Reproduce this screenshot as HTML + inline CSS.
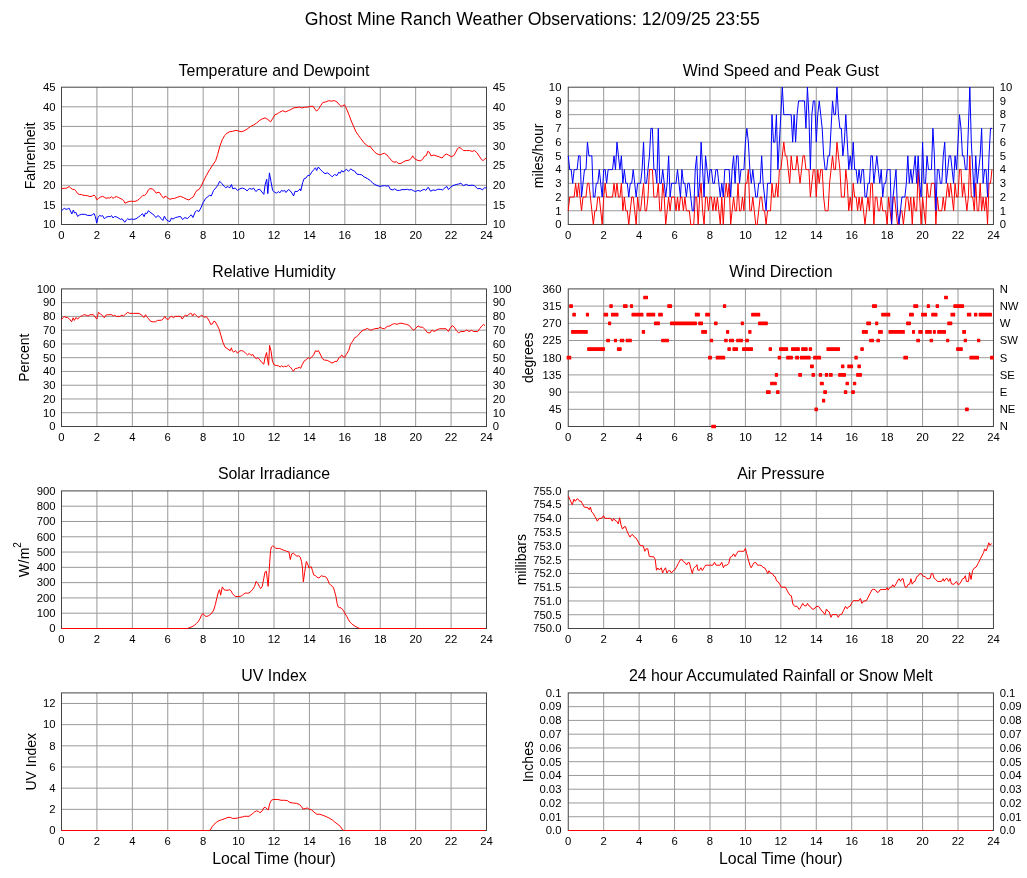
<!DOCTYPE html>
<html lang="en"><head><meta charset="utf-8"><title>Ghost Mine Ranch Weather Observations</title>
<style>html,body{margin:0;padding:0;background:#fff}svg{display:block;will-change:transform}text{font-family:"Liberation Sans", Arial, Helvetica, sans-serif;fill:#000}.t{font-size:11.3px}</style></head><body>
<svg width="1027" height="878" viewBox="0 0 1027 878">
<rect width="1027" height="878" fill="#fff"/>
<text x="532.3" y="25" font-size="17.7" text-anchor="middle">Ghost Mine Ranch Weather Observations: 12/09/25 23:55</text>
<path d="M96.92 87.2V224.5M132.33 87.2V224.5M167.75 87.2V224.5M203.17 87.2V224.5M238.58 87.2V224.5M274 87.2V224.5M309.42 87.2V224.5M344.83 87.2V224.5M380.25 87.2V224.5M415.67 87.2V224.5M451.08 87.2V224.5M61.5 204.89H486.5M61.5 185.27H486.5M61.5 165.66H486.5M61.5 146.04H486.5M61.5 126.43H486.5M61.5 106.81H486.5" stroke="#999" stroke-width="1" fill="none"/>
<rect x="61.5" y="87.2" width="425" height="137.3" fill="none" stroke="#444" stroke-width="1"/>
<path d="M61.5 210.8 63.21 209.19 64.28 208.34 65.89 209.19 67.5 209.19 68.78 207.91 70.18 210.26 71.78 214.01 73.39 210.05 74.46 212.94 75.85 212.41 77.67 216.48 79.28 215.08 81.42 214.33 84.63 214.33 87.85 215.41 91.06 215.41 92.67 214.55 94.06 213.48 95.35 216.69 96.74 223.12 98.02 217.23 99.63 215.41 101.24 216.16 102.63 215.62 104.45 218.83 106.06 217.23 108.2 216.48 110.34 216.69 111.63 215.62 113.02 217.98 114.63 216.48 116.77 217.01 118.91 218.3 120.52 219.37 122.12 218.83 124.8 222.26 126.41 219.9 127.8 218.62 129.08 219.69 131.23 219.05 133.9 219.37 136.05 218.83 138.19 217.23 140.33 215.62 142.47 213.69 144.08 216.69 145.47 212.94 146.76 213.69 148.47 210.59 149.97 212.19 152.11 213.69 154.26 215.41 155.86 217.55 158 215.62 159.61 216.69 161.22 218.83 162.82 220.44 164.43 216.16 166.04 219.37 168.18 220.98 170 221.51 171.38 218 172.97 219.12 175.36 217.52 177.75 217.04 180.46 216.41 182.54 219.59 184.93 217.52 187.32 218.64 189.71 216.41 191.3 214.81 192.9 217.52 195.29 211.94 196.88 210.35 198.8 211.62 200.87 207.96 203.26 202.38 205.65 198.39 207.72 196.8 209.64 195.2 211.23 196 213.62 190.42 215.7 188.03 217.61 185.64 219.68 181.33 221.59 183.25 223.99 186.12 225.58 187.71 227.97 186.43 229.57 188.03 231.48 184.52 232.75 188.83 235.14 188.03 237.54 190.42 239.93 188.83 242.32 188.03 244.71 188.83 247.1 190.9 249.49 188.35 251.88 189.3 253.48 188.03 255.87 191.54 257.94 189.62 259.86 189.3 261.93 192.01 263.84 194.41 265.12 184.84 266.71 179.26 267.83 193.61 269.42 172.88 271.01 181.65 272.61 190.42 275 192.49 276.7 193.13 278.29 191.54 279.88 192.81 281.48 190.42 283.07 191.22 284.67 190.42 285.94 192.49 288.33 189.62 289.93 190.42 292 193.13 293.59 196 295.03 191.22 297.1 191.54 298.7 190.42 299.97 188.83 300.77 190.9 302.68 182.45 304.28 178.46 305.87 178.14 307.94 175.28 309.54 175.59 311.77 172.09 313.84 169.7 315.43 167.78 316.71 170.49 318.3 166.99 320.22 169.22 322.61 171.77 325 173.68 327.39 172.88 329.78 174.48 332.17 176.87 334.57 174.48 336.96 175.59 338.87 172.09 340.14 173.36 341.74 170.49 343.01 172.09 344.93 170.49 346.52 169.22 348.43 171.29 350.83 168.9 352.9 170.49 354.49 170.97 356.88 174.16 359.28 174.48 361.67 174.8 364.06 176.87 367.25 178.46 370.12 180.38 372.83 183.25 376.01 185.16 380 186.43 381.19 186.12 384.38 185.64 386.77 186.12 388.36 185.64 390.43 189.3 393.14 189.94 394.74 188.83 397.13 190.42 399.52 190.42 401.91 189.62 405.1 189.62 407.49 189.3 409.09 189.94 411.48 189.62 413.87 190.9 415.46 191.54 417.86 190.42 420.25 191.22 422.64 189.94 424.23 189.3 425.83 190.42 428.22 187.23 430.61 191.22 433 189.94 435.39 190.42 437.78 189.3 440.17 189.3 442.57 189.94 444.96 187.71 446.87 186.43 448.46 189.62 450.54 187.23 452.93 185.64 456.12 184.52 458.51 184.04 460.9 183.25 463.29 185.64 466.48 184.36 468.87 185.64 472.06 185.16 474.45 185.64 477.64 188.83 480.03 188.35 482.42 189.94 484.49 187.71 486.41 188.03" stroke="#0000ff" stroke-width="1.0" fill="none" stroke-linejoin="round"/>
<path d="M61.5 188.52 64.28 188.31 66.96 188.09 69.1 186.49 70.71 187.99 72.32 189.27 74.46 189.49 76.07 191.2 77.67 193.66 79.28 194.41 81.42 194.52 83.03 195.27 85.71 195.48 87.85 195.81 89.78 196.66 92.13 196.13 94.06 195.06 95.35 196.34 96.74 199.77 98.56 198.48 100.17 197.2 102.63 196.34 104.13 197.2 106.06 198.27 108.2 197.84 109.81 198.16 111.41 196.77 113.02 198.27 114.63 197.41 116.23 196.56 118.37 197.41 119.98 198.27 122.12 199.34 123.73 200.63 125.01 203.3 126.94 202.23 129.08 201.48 131.23 201.16 132.83 201.37 134.98 201.37 137.12 200.63 139.26 199.02 141.4 196.88 143.01 195.27 144.62 195.48 146.76 193.13 148.36 189.91 149.97 188.63 152.11 188.84 153.72 189.91 155.33 192.06 156.18 193.13 158 192.27 159.61 192.59 161.22 195.27 162.82 197.41 163.68 198.27 164.97 196.13 166.57 196.88 168.18 198.27 170 199.34 172.17 198.55 174.57 198.39 177.75 197.12 180.46 196.32 183.33 197.59 186.52 199.19 188.91 199.99 191.3 198.07 193.38 196.8 195.29 192.81 196.88 190.42 198.8 189.62 200.87 186.75 203.26 181.65 206.45 175.28 209.64 169.7 212.83 164.91 215.7 160.61 217.61 154.55 220 145.78 222.39 139.41 224.78 135.42 227.17 133.03 229.57 131.75 232.75 131.28 235.94 130.32 238.33 130.96 241.2 131.75 243.91 130.96 247.1 129.04 250.29 126.65 253.48 125.06 256.67 122.99 259.86 120.28 262.25 118.84 265.12 117.88 267.83 119.48 270.54 121.87 272.61 118.68 275 114.7 277.17 113.9 279.57 112.3 282.75 110.71 285.46 111.83 288.33 110.71 290.72 109.59 293.91 107.84 297.1 107.52 299.49 107.04 301.88 108 304.28 107.2 307.46 107.2 309.86 106.41 313.04 106.25 314.96 109.12 316.55 111.19 319.1 108.32 321.01 105.13 322.93 102.42 325.8 101.94 328.67 100.67 331.38 101.14 334.57 100.67 336.96 101.94 339.35 104.81 340.94 106.25 342.54 105.93 344.45 104.81 346.2 108 348.91 114.7 351.3 121.07 353.7 126.65 355.77 131.43 358.48 135.42 360.87 138.61 363.74 142.59 366.45 144.99 368.52 146.58 370.12 146.26 372.03 148.97 374.42 151.68 376.81 153.75 380 154.87 380.39 154.87 382.46 153.75 384.38 153.28 386.77 154.87 389.16 157.74 391.55 160.61 393.94 162.2 396.33 161.72 398.72 163.64 401.12 163.32 403.51 161.72 405.9 160.61 409.09 160.13 411.16 158.54 412.75 155.83 414.35 158.54 417.06 160.13 420.25 160.93 422.64 159.33 424.55 156.14 426.3 155.67 427.74 151.36 429.33 152.16 430.93 155.83 433.8 155.03 436.19 155.83 439.38 156.94 442.09 158.06 444.16 155.35 446.55 154.07 448.94 155.35 451.33 156.62 453.72 155.67 455.8 152.16 457.39 148.97 458.83 147.38 460.9 148.17 463.29 150.57 466.48 150.57 469.67 150.57 472.06 151.36 474.45 150.57 476.84 152.64 479.23 156.14 481.62 159.65 483.22 160.61 485.13 158.54 486.41 158.54" stroke="#ff0000" stroke-width="1.0" fill="none" stroke-linejoin="round"/>
<text x="274" y="75.6" font-size="15.9" text-anchor="middle">Temperature and Dewpoint</text>
<text class="t" x="61.5" y="238.9" text-anchor="middle">0</text>
<text class="t" x="96.92" y="238.9" text-anchor="middle">2</text>
<text class="t" x="132.33" y="238.9" text-anchor="middle">4</text>
<text class="t" x="167.75" y="238.9" text-anchor="middle">6</text>
<text class="t" x="203.17" y="238.9" text-anchor="middle">8</text>
<text class="t" x="238.58" y="238.9" text-anchor="middle">10</text>
<text class="t" x="274" y="238.9" text-anchor="middle">12</text>
<text class="t" x="309.42" y="238.9" text-anchor="middle">14</text>
<text class="t" x="344.83" y="238.9" text-anchor="middle">16</text>
<text class="t" x="380.25" y="238.9" text-anchor="middle">18</text>
<text class="t" x="415.67" y="238.9" text-anchor="middle">20</text>
<text class="t" x="451.08" y="238.9" text-anchor="middle">22</text>
<text class="t" x="486.5" y="238.9" text-anchor="middle">24</text>
<text class="t" x="55.5" y="228.3" text-anchor="end">10</text>
<text class="t" x="55.5" y="208.69" text-anchor="end">15</text>
<text class="t" x="55.5" y="189.07" text-anchor="end">20</text>
<text class="t" x="55.5" y="169.46" text-anchor="end">25</text>
<text class="t" x="55.5" y="149.84" text-anchor="end">30</text>
<text class="t" x="55.5" y="130.23" text-anchor="end">35</text>
<text class="t" x="55.5" y="110.61" text-anchor="end">40</text>
<text class="t" x="55.5" y="91" text-anchor="end">45</text>
<text class="t" x="492.7" y="228.3">10</text>
<text class="t" x="492.7" y="208.69">15</text>
<text class="t" x="492.7" y="189.07">20</text>
<text class="t" x="492.7" y="169.46">25</text>
<text class="t" x="492.7" y="149.84">30</text>
<text class="t" x="492.7" y="130.23">35</text>
<text class="t" x="492.7" y="110.61">40</text>
<text class="t" x="492.7" y="91">45</text>
<text transform="translate(34.9 155.85) rotate(-90)" font-size="14" text-anchor="middle">Fahrenheit</text>
<path d="M603.68 87.2V224.5M639.12 87.2V224.5M674.55 87.2V224.5M709.98 87.2V224.5M745.42 87.2V224.5M780.85 87.2V224.5M816.28 87.2V224.5M851.72 87.2V224.5M887.15 87.2V224.5M922.58 87.2V224.5M958.02 87.2V224.5M568.25 210.77H993.45M568.25 197.04H993.45M568.25 183.31H993.45M568.25 169.58H993.45M568.25 155.85H993.45M568.25 142.12H993.45M568.25 128.39H993.45M568.25 114.66H993.45M568.25 100.93H993.45" stroke="#999" stroke-width="1" fill="none"/>
<rect x="568.25" y="87.2" width="425.2" height="137.3" fill="none" stroke="#444" stroke-width="1"/>
<path d="M568.25 210.77 569.73 197.04 571.2 197.04 572.68 197.04 574.16 197.04 575.63 183.31 577.11 197.04 578.58 183.31 580.06 197.04 581.54 210.77 583.01 197.04 584.49 197.04 585.97 197.04 587.44 183.31 588.92 183.31 590.4 197.04 591.87 210.77 593.35 224.5 594.83 210.77 596.3 210.77 597.78 197.04 599.25 197.04 600.73 210.77 602.21 224.5 603.68 197.04 605.16 183.31 606.64 197.04 608.11 197.04 609.59 197.04 611.07 197.04 612.54 197.04 614.02 183.31 615.49 197.04 616.97 183.31 618.45 197.04 619.92 197.04 621.4 183.31 622.88 210.77 624.35 197.04 625.83 210.77 627.31 210.77 628.78 224.5 630.26 210.77 631.73 197.04 633.21 197.04 634.69 210.77 636.16 224.5 637.64 197.04 639.12 210.77 640.59 210.77 642.07 197.04 643.55 183.31 645.02 210.77 646.5 210.77 647.98 197.04 649.45 169.58 650.93 169.58 652.4 169.58 653.88 197.04 655.36 197.04 656.83 197.04 658.31 183.31 659.79 210.77 661.26 210.77 662.74 183.31 664.22 197.04 665.69 224.5 667.17 210.77 668.64 197.04 670.12 210.77 671.6 197.04 673.07 197.04 674.55 197.04 676.03 210.77 677.5 197.04 678.98 210.77 680.46 197.04 681.93 197.04 683.41 210.77 684.88 197.04 686.36 210.77 687.84 210.77 689.31 210.77 690.79 224.5 692.27 224.5 693.74 224.5 695.22 197.04 696.7 197.04 698.17 224.5 699.65 197.04 701.12 183.31 702.6 210.77 704.08 224.5 705.55 197.04 707.03 197.04 708.51 210.77 709.98 197.04 711.46 197.04 712.94 210.77 714.41 197.04 715.89 210.77 717.37 197.04 718.84 210.77 720.32 224.5 721.79 197.04 723.27 224.5 724.75 197.04 726.22 183.31 727.7 197.04 729.18 183.31 730.65 224.5 732.13 210.77 733.61 197.04 735.08 210.77 736.56 210.77 738.03 183.31 739.51 210.77 740.99 210.77 742.46 197.04 743.94 210.77 745.42 183.31 746.89 183.31 748.37 169.58 749.85 210.77 751.32 210.77 752.8 197.04 754.27 210.77 755.75 224.5 757.23 224.5 758.7 210.77 760.18 197.04 761.66 197.04 763.13 210.77 764.61 210.77 766.09 224.5 767.56 210.77 769.04 210.77 770.52 210.77 771.99 183.31 773.47 197.04 774.94 197.04 776.42 183.31 777.9 197.04 779.37 169.58 780.85 169.58 782.33 155.85 783.8 142.12 785.28 155.85 786.76 155.85 788.23 169.58 789.71 183.31 791.18 155.85 792.66 169.58 794.14 169.58 795.61 169.58 797.09 155.85 798.57 169.58 800.04 183.31 801.52 169.58 803 155.85 804.47 155.85 805.95 169.58 807.42 169.58 808.9 169.58 810.38 197.04 811.85 183.31 813.33 169.58 814.81 169.58 816.28 197.04 817.76 169.58 819.24 183.31 820.71 169.58 822.19 169.58 823.67 197.04 825.14 210.77 826.62 210.77 828.09 210.77 829.57 183.31 831.05 169.58 832.52 155.85 834 169.58 835.48 169.58 836.95 142.12 838.43 155.85 839.91 169.58 841.38 197.04 842.86 197.04 844.33 197.04 845.81 169.58 847.29 183.31 848.76 210.77 850.24 197.04 851.72 210.77 853.19 183.31 854.67 197.04 856.15 197.04 857.62 210.77 859.1 197.04 860.58 210.77 862.05 197.04 863.53 210.77 865 224.5 866.48 210.77 867.96 197.04 869.43 210.77 870.91 183.31 872.39 183.31 873.86 224.5 875.34 197.04 876.82 197.04 878.29 210.77 879.77 210.77 881.24 197.04 882.72 210.77 884.2 210.77 885.67 210.77 887.15 224.5 888.63 197.04 890.1 210.77 891.58 224.5 893.06 197.04 894.53 197.04 896.01 210.77 897.48 224.5 898.96 224.5 900.44 210.77 901.91 210.77 903.39 224.5 904.87 210.77 906.34 197.04 907.82 197.04 909.3 210.77 910.77 197.04 912.25 224.5 913.73 197.04 915.2 210.77 916.68 210.77 918.15 169.58 919.63 197.04 921.11 224.5 922.58 197.04 924.06 210.77 925.54 224.5 927.01 183.31 928.49 197.04 929.97 197.04 931.44 183.31 932.92 183.31 934.39 183.31 935.87 224.5 937.35 197.04 938.82 210.77 940.3 210.77 941.78 210.77 943.25 197.04 944.73 210.77 946.21 197.04 947.68 183.31 949.16 197.04 950.63 183.31 952.11 197.04 953.59 210.77 955.06 183.31 956.54 197.04 958.02 197.04 959.49 169.58 960.97 169.58 962.45 197.04 963.92 183.31 965.4 197.04 966.88 210.77 968.35 197.04 969.83 155.85 971.3 197.04 972.78 197.04 974.26 210.77 975.73 183.31 977.21 210.77 978.69 210.77 980.16 183.31 981.64 210.77 983.12 197.04 984.59 210.77 986.07 197.04 987.54 224.5 989.02 183.31 990.5 183.31 991.97 169.58" stroke="#ff0000" stroke-width="1.0" fill="none" stroke-linejoin="round"/>
<path d="M568.25 155.85 569.73 169.58 571.2 169.58 572.68 183.31 574.16 169.58 575.63 169.58 577.11 169.58 578.58 155.85 580.06 155.85 581.54 197.04 583.01 183.31 584.49 169.58 585.97 169.58 587.44 142.12 588.92 155.85 590.4 155.85 591.87 155.85 593.35 197.04 594.83 197.04 596.3 183.31 597.78 183.31 599.25 169.58 600.73 183.31 602.21 197.04 603.68 169.58 605.16 169.58 606.64 183.31 608.11 169.58 609.59 169.58 611.07 169.58 612.54 169.58 614.02 155.85 615.49 169.58 616.97 142.12 618.45 155.85 619.92 169.58 621.4 155.85 622.88 183.31 624.35 169.58 625.83 183.31 627.31 183.31 628.78 197.04 630.26 183.31 631.73 183.31 633.21 169.58 634.69 183.31 636.16 197.04 637.64 183.31 639.12 183.31 640.59 183.31 642.07 169.58 643.55 142.12 645.02 183.31 646.5 183.31 647.98 169.58 649.45 155.85 650.93 128.39 652.4 128.39 653.88 169.58 655.36 169.58 656.83 183.31 658.31 128.39 659.79 183.31 661.26 183.31 662.74 169.58 664.22 183.31 665.69 197.04 667.17 183.31 668.64 155.85 670.12 197.04 671.6 183.31 673.07 183.31 674.55 183.31 676.03 183.31 677.5 169.58 678.98 183.31 680.46 197.04 681.93 169.58 683.41 183.31 684.88 183.31 686.36 197.04 687.84 183.31 689.31 183.31 690.79 197.04 692.27 210.77 693.74 210.77 695.22 169.58 696.7 155.85 698.17 197.04 699.65 183.31 701.12 142.12 702.6 169.58 704.08 197.04 705.55 155.85 707.03 169.58 708.51 183.31 709.98 169.58 711.46 169.58 712.94 183.31 714.41 183.31 715.89 169.58 717.37 169.58 718.84 183.31 720.32 197.04 721.79 183.31 723.27 197.04 724.75 169.58 726.22 169.58 727.7 169.58 729.18 169.58 730.65 197.04 732.13 169.58 733.61 155.85 735.08 183.31 736.56 155.85 738.03 155.85 739.51 183.31 740.99 169.58 742.46 169.58 743.94 169.58 745.42 142.12 746.89 128.39 748.37 142.12 749.85 169.58 751.32 183.31 752.8 169.58 754.27 183.31 755.75 197.04 757.23 197.04 758.7 183.31 760.18 183.31 761.66 155.85 763.13 183.31 764.61 197.04 766.09 210.77 767.56 183.31 769.04 183.31 770.52 183.31 771.99 114.66 773.47 142.12 774.94 142.12 776.42 114.66 777.9 169.58 779.37 142.12 780.85 114.66 782.33 87.2 783.8 114.66 785.28 114.66 786.76 114.66 788.23 114.66 789.71 114.66 791.18 114.66 792.66 142.12 794.14 114.66 795.61 142.12 797.09 114.66 798.57 100.93 800.04 100.93 801.52 100.93 803 100.93 804.47 100.93 805.95 128.39 807.42 87.2 808.9 114.66 810.38 169.58 811.85 114.66 813.33 100.93 814.81 100.93 816.28 142.12 817.76 114.66 819.24 100.93 820.71 114.66 822.19 128.39 823.67 155.85 825.14 169.58 826.62 169.58 828.09 155.85 829.57 155.85 831.05 128.39 832.52 100.93 834 114.66 835.48 114.66 836.95 87.2 838.43 114.66 839.91 128.39 841.38 128.39 842.86 155.85 844.33 142.12 845.81 114.66 847.29 142.12 848.76 169.58 850.24 155.85 851.72 169.58 853.19 142.12 854.67 169.58 856.15 169.58 857.62 183.31 859.1 169.58 860.58 183.31 862.05 169.58 863.53 169.58 865 197.04 866.48 197.04 867.96 183.31 869.43 183.31 870.91 155.85 872.39 155.85 873.86 183.31 875.34 169.58 876.82 155.85 878.29 169.58 879.77 183.31 881.24 169.58 882.72 197.04 884.2 183.31 885.67 183.31 887.15 169.58 888.63 169.58 890.1 169.58 891.58 224.5 893.06 197.04 894.53 183.31 896.01 169.58 897.48 210.77 898.96 224.5 900.44 210.77 901.91 197.04 903.39 197.04 904.87 197.04 906.34 183.31 907.82 155.85 909.3 183.31 910.77 169.58 912.25 183.31 913.73 169.58 915.2 155.85 916.68 183.31 918.15 155.85 919.63 183.31 921.11 197.04 922.58 142.12 924.06 183.31 925.54 183.31 927.01 155.85 928.49 169.58 929.97 169.58 931.44 169.58 932.92 128.39 934.39 155.85 935.87 210.77 937.35 169.58 938.82 169.58 940.3 183.31 941.78 183.31 943.25 155.85 944.73 142.12 946.21 183.31 947.68 169.58 949.16 155.85 950.63 155.85 952.11 169.58 953.59 183.31 955.06 155.85 956.54 169.58 958.02 142.12 959.49 114.66 960.97 128.39 962.45 155.85 963.92 155.85 965.4 169.58 966.88 169.58 968.35 128.39 969.83 87.2 971.3 142.12 972.78 169.58 974.26 197.04 975.73 155.85 977.21 183.31 978.69 169.58 980.16 155.85 981.64 128.39 983.12 183.31 984.59 169.58 986.07 169.58 987.54 197.04 989.02 155.85 990.5 128.39 991.97 128.39" stroke="#0000ff" stroke-width="1.0" fill="none" stroke-linejoin="round"/>
<text x="780.85" y="75.6" font-size="15.9" text-anchor="middle">Wind Speed and Peak Gust</text>
<text class="t" x="568.25" y="238.9" text-anchor="middle">0</text>
<text class="t" x="603.68" y="238.9" text-anchor="middle">2</text>
<text class="t" x="639.12" y="238.9" text-anchor="middle">4</text>
<text class="t" x="674.55" y="238.9" text-anchor="middle">6</text>
<text class="t" x="709.98" y="238.9" text-anchor="middle">8</text>
<text class="t" x="745.42" y="238.9" text-anchor="middle">10</text>
<text class="t" x="780.85" y="238.9" text-anchor="middle">12</text>
<text class="t" x="816.28" y="238.9" text-anchor="middle">14</text>
<text class="t" x="851.72" y="238.9" text-anchor="middle">16</text>
<text class="t" x="887.15" y="238.9" text-anchor="middle">18</text>
<text class="t" x="922.58" y="238.9" text-anchor="middle">20</text>
<text class="t" x="958.02" y="238.9" text-anchor="middle">22</text>
<text class="t" x="993.45" y="238.9" text-anchor="middle">24</text>
<text class="t" x="561.45" y="228.3" text-anchor="end">0</text>
<text class="t" x="561.45" y="214.57" text-anchor="end">1</text>
<text class="t" x="561.45" y="200.84" text-anchor="end">2</text>
<text class="t" x="561.45" y="187.11" text-anchor="end">3</text>
<text class="t" x="561.45" y="173.38" text-anchor="end">4</text>
<text class="t" x="561.45" y="159.65" text-anchor="end">5</text>
<text class="t" x="561.45" y="145.92" text-anchor="end">6</text>
<text class="t" x="561.45" y="132.19" text-anchor="end">7</text>
<text class="t" x="561.45" y="118.46" text-anchor="end">8</text>
<text class="t" x="561.45" y="104.73" text-anchor="end">9</text>
<text class="t" x="561.45" y="91" text-anchor="end">10</text>
<text class="t" x="999.65" y="228.3">0</text>
<text class="t" x="999.65" y="214.57">1</text>
<text class="t" x="999.65" y="200.84">2</text>
<text class="t" x="999.65" y="187.11">3</text>
<text class="t" x="999.65" y="173.38">4</text>
<text class="t" x="999.65" y="159.65">5</text>
<text class="t" x="999.65" y="145.92">6</text>
<text class="t" x="999.65" y="132.19">7</text>
<text class="t" x="999.65" y="118.46">8</text>
<text class="t" x="999.65" y="104.73">9</text>
<text class="t" x="999.65" y="91">10</text>
<text transform="translate(542.9 155.85) rotate(-90)" font-size="14" text-anchor="middle">miles/hour</text>
<path d="M96.92 288.9V426.5M132.33 288.9V426.5M167.75 288.9V426.5M203.17 288.9V426.5M238.58 288.9V426.5M274 288.9V426.5M309.42 288.9V426.5M344.83 288.9V426.5M380.25 288.9V426.5M415.67 288.9V426.5M451.08 288.9V426.5M61.5 412.74H486.5M61.5 398.98H486.5M61.5 385.22H486.5M61.5 371.46H486.5M61.5 357.7H486.5M61.5 343.94H486.5M61.5 330.18H486.5M61.5 316.42H486.5M61.5 302.66H486.5" stroke="#999" stroke-width="1" fill="none"/>
<rect x="61.5" y="288.9" width="425" height="137.6" fill="none" stroke="#444" stroke-width="1"/>
<path d="M61.64 319.36 63 317.72 64.09 316.36 65.73 317.45 67.5 317.45 69.54 319.08 71.59 321.81 73.22 317.72 74.31 320.45 76.09 317.45 77.45 319.08 79.08 317.72 80.45 316.36 82.49 315.68 83.86 314.72 85.9 315 87.95 316.09 89.99 314.72 93.4 314.72 95.17 317.04 96.81 319.08 98.44 312.27 100.21 313.9 102.26 315.27 104.3 317.72 105.67 315.27 107.71 314.72 111.8 314.72 113.44 316.09 114.53 315 116.16 316.36 119.98 316.36 122.03 315 123.39 316.09 125.43 314.31 127.75 312.27 129.52 313.36 133.61 313.36 139.07 313.36 141.11 314.72 142.47 315.68 143.84 317.45 145.61 314.72 146.56 316.63 148.33 318.4 149.97 320.72 152.02 321.81 155.42 321.81 157.47 320.45 161.56 320.18 163.33 318.81 164.69 316.36 166.33 318.81 168.37 319.36 170.42 316.63 171.78 316.36 173.42 317.72 175.19 316.36 178.6 316.36 180.64 316.36 182.28 319.08 184.05 316.36 185.41 315 187.05 316.09 188.82 314.31 190.59 313.22 191.55 313.63 192.5 316.09 194.27 313.63 196.32 315.68 198.36 317.45 200 316.63 200.18 316.45 201.54 315.08 203.18 316.45 204.81 317.4 206.18 316.45 207.95 318.9 209.31 321.22 210.68 324.35 212.45 323.95 213.81 321.22 215.18 321.63 216.81 324.63 219.26 329.4 220.9 335.53 222.95 342.35 224.99 347.12 227.04 348.48 229.08 349.85 230.17 350.8 231.4 347.8 232.49 351.21 233.85 352.16 235.49 350.53 237.53 353.25 239.3 351.21 241.35 350.53 243.39 351.21 245.44 352.98 247.48 354.89 249.26 353.53 250.89 355.3 252.94 354.62 254.57 357.34 256.34 358.71 257.98 357.62 259.75 359.8 261.8 362.52 263.84 364.16 264.93 358.03 266.57 352.57 267.66 360.07 268.61 365.25 269.57 345.35 271.07 351.21 272.43 361.16 274.07 364.84 276.11 365.52 278.43 365.8 280.2 366.89 281.56 365.8 283.33 366.89 284.7 366.2 286.33 366.61 288.38 365.25 290.42 367.16 292.06 369.34 293.42 371.25 295.19 368.52 297.24 368.25 299.28 367.3 300.65 368.25 302.42 364.16 304.06 361.16 306.1 359.8 308.15 357.62 309.51 358.71 311.55 357.34 313.6 354.89 315.64 350.53 317.01 351.62 318.37 350.53 320.14 353.94 322.46 358.71 324.5 360.07 327.23 360.34 329.27 361.43 332 363.07 334.05 362.11 335 361.43 337.01 361.43 339.04 357.54 340.59 356.76 341.68 354.89 343.24 357.07 344.8 357.23 346.36 354.42 348.7 350.53 350.56 344.3 352.59 341.49 354.62 337.75 356.48 336.82 358.82 334.64 360.85 331.83 363.03 330.27 365.05 329.5 367.39 328.41 369.73 329.96 372.06 329.96 374.4 328.72 378.3 328.41 380.17 327.16 382.19 328.41 384.53 328.72 387.33 326.38 389.98 325.91 392.32 324.35 394.65 323.58 396.99 324.35 399.8 323.26 401.98 323.26 404.47 324.04 406.65 324.35 409.45 325.6 411.32 327.94 413.35 330.27 415.69 328.41 418.02 325.91 420.05 327.16 422.7 327.16 425.03 329.5 427.37 332.61 430.02 332.92 432.04 329.96 434.07 331.52 436.72 329.96 439.52 328.72 442.95 328.72 446.07 328.72 448.4 331.52 450.27 327.94 452.3 325.6 454.32 327.16 456.19 330.27 458.53 332.92 460.87 331.52 464.29 331.52 466.79 329.96 468.97 331.52 471.46 330.27 473.64 331.52 477.69 331.52 479.87 328.41 481.9 325.91 483.46 324.51 485.01 325.6" stroke="#ff0000" stroke-width="1.0" fill="none" stroke-linejoin="round"/>
<text x="274" y="277.3" font-size="15.9" text-anchor="middle">Relative Humidity</text>
<text class="t" x="61.5" y="440.9" text-anchor="middle">0</text>
<text class="t" x="96.92" y="440.9" text-anchor="middle">2</text>
<text class="t" x="132.33" y="440.9" text-anchor="middle">4</text>
<text class="t" x="167.75" y="440.9" text-anchor="middle">6</text>
<text class="t" x="203.17" y="440.9" text-anchor="middle">8</text>
<text class="t" x="238.58" y="440.9" text-anchor="middle">10</text>
<text class="t" x="274" y="440.9" text-anchor="middle">12</text>
<text class="t" x="309.42" y="440.9" text-anchor="middle">14</text>
<text class="t" x="344.83" y="440.9" text-anchor="middle">16</text>
<text class="t" x="380.25" y="440.9" text-anchor="middle">18</text>
<text class="t" x="415.67" y="440.9" text-anchor="middle">20</text>
<text class="t" x="451.08" y="440.9" text-anchor="middle">22</text>
<text class="t" x="486.5" y="440.9" text-anchor="middle">24</text>
<text class="t" x="55.5" y="430.3" text-anchor="end">0</text>
<text class="t" x="55.5" y="416.54" text-anchor="end">10</text>
<text class="t" x="55.5" y="402.78" text-anchor="end">20</text>
<text class="t" x="55.5" y="389.02" text-anchor="end">30</text>
<text class="t" x="55.5" y="375.26" text-anchor="end">40</text>
<text class="t" x="55.5" y="361.5" text-anchor="end">50</text>
<text class="t" x="55.5" y="347.74" text-anchor="end">60</text>
<text class="t" x="55.5" y="333.98" text-anchor="end">70</text>
<text class="t" x="55.5" y="320.22" text-anchor="end">80</text>
<text class="t" x="55.5" y="306.46" text-anchor="end">90</text>
<text class="t" x="55.5" y="292.7" text-anchor="end">100</text>
<text class="t" x="492.7" y="430.3">0</text>
<text class="t" x="492.7" y="416.54">10</text>
<text class="t" x="492.7" y="402.78">20</text>
<text class="t" x="492.7" y="389.02">30</text>
<text class="t" x="492.7" y="375.26">40</text>
<text class="t" x="492.7" y="361.5">50</text>
<text class="t" x="492.7" y="347.74">60</text>
<text class="t" x="492.7" y="333.98">70</text>
<text class="t" x="492.7" y="320.22">80</text>
<text class="t" x="492.7" y="306.46">90</text>
<text class="t" x="492.7" y="292.7">100</text>
<text transform="translate(29.3 357.7) rotate(-90)" font-size="14" text-anchor="middle">Percent</text>
<path d="M603.68 288.9V426.5M639.12 288.9V426.5M674.55 288.9V426.5M709.98 288.9V426.5M745.42 288.9V426.5M780.85 288.9V426.5M816.28 288.9V426.5M851.72 288.9V426.5M887.15 288.9V426.5M922.58 288.9V426.5M958.02 288.9V426.5M568.25 409.3H993.45M568.25 392.1H993.45M568.25 374.9H993.45M568.25 357.7H993.45M568.25 340.5H993.45M568.25 323.3H993.45M568.25 306.1H993.45" stroke="#999" stroke-width="1" fill="none"/>
<rect x="568.25" y="288.9" width="425.2" height="137.6" fill="none" stroke="#444" stroke-width="1"/>
<path d="M643.82 296.25h3.61v2.5h-3.61zM569.76 304.85h2.6v2.5h-2.6zM609.89 304.85h2.34v2.5h-2.34zM623.56 304.85h3.48v2.5h-3.48zM630.52 304.85h1.96v2.5h-1.96zM667.87 304.85h3.61v2.5h-3.61zM572.93 313.45h2.34v2.5h-2.34zM586.47 313.45h1.96v2.5h-1.96zM604.19 313.45h3.36v2.5h-3.36zM611.54 313.45h6.39v2.5h-6.39zM632.04 313.45h10.83v2.5h-10.83zM646.98 313.45h7.66v2.5h-7.66zM658.75 313.45h3.48v2.5h-3.48zM695.43 313.45h0.2v2.5h-0.2zM608.63 322.05h1.96v2.5h-1.96zM654.57 322.05h4.75v2.5h-4.75zM670.65 322.05h24.75v2.5h-24.75zM571.66 330.65h15.51v2.5h-15.51zM642.3 330.65h2.22v2.5h-2.22zM606.85 339.25h2.47v2.5h-2.47zM614.45 339.25h1.96v2.5h-1.96zM620.4 339.25h3.23v2.5h-3.23zM626.35 339.25h4.88v2.5h-4.88zM661.79 339.25h6.52v2.5h-6.52zM587.74 347.85h16.65v2.5h-16.65zM617.49 347.85h3.61v2.5h-3.61zM567.23 356.45h3.48v2.5h-3.48zM723.5 304.85h2.09v2.5h-2.09zM695.65 313.45h3.61v2.5h-3.61zM705.78 313.45h3.61v2.5h-3.61zM751.73 313.45h7.91v2.5h-7.91zM691.6 322.05h4.75v2.5h-4.75zM698.82 322.05h3.61v2.5h-3.61zM714.64 322.05h2.34v2.5h-2.34zM741.35 322.05h1.96v2.5h-1.96zM758.69 322.05h8.55v2.5h-8.55zM701.73 330.65h4.75v2.5h-4.75zM726.66 330.65h1.96v2.5h-1.96zM748.82 330.65h2.09v2.5h-2.09zM710.33 339.25h2.22v2.5h-2.22zM724.76 339.25h2.34v2.5h-2.34zM729.57 339.25h3.86v2.5h-3.86zM736.79 339.25h5.51v2.5h-5.51zM745.78 339.25h2.47v2.5h-2.47zM727.93 347.85h2.34v2.5h-2.34zM732.99 347.85h4.5v2.5h-4.5zM742.61 347.85h9.81v2.5h-9.81zM769.19 347.85h2.22v2.5h-2.22zM779.57 347.85h8.04v2.5h-8.04zM791.6 347.85h7.66v2.5h-7.66zM801.73 347.85h5.38v2.5h-5.38zM809.32 347.85h2.22v2.5h-2.22zM708.69 356.45h2.6v2.5h-2.6zM716.28 356.45h8.29v2.5h-8.29zM778.31 356.45h2.22v2.5h-2.22zM786.79 356.45h5.51v2.5h-5.51zM795.78 356.45h2.6v2.5h-2.6zM800.46 356.45h9.56v2.5h-9.56zM813.75 356.45h6.65v2.5h-6.65zM810.59 365.05h2.6v2.5h-2.6zM775.4 373.65h2.09v2.5h-2.09zM798.82 373.65h2.6v2.5h-2.6zM812.11 373.65h2.34v2.5h-2.34zM819.7 373.65h0.7v2.5h-0.7zM770.71 382.25h5.51v2.5h-5.51zM820.43 382.25h0.2v2.5h-0.2zM766.54 390.85h3.61v2.5h-3.61zM776.66 390.85h2.34v2.5h-2.34zM815.02 408.05h2.34v2.5h-2.34zM711.85 425.25h3.61v2.5h-3.61zM944.7 296.25h0.7v2.5h-0.7zM872.55 304.85h3.86v2.5h-3.86zM913.82 304.85h3.86v2.5h-3.86zM927.36 304.85h1.96v2.5h-1.96zM936.22 304.85h2.22v2.5h-2.22zM881.79 313.45h7.91v2.5h-7.91zM909.64 313.45h3.61v2.5h-3.61zM921.66 313.45h4.75v2.5h-4.75zM931.79 313.45h5.13v2.5h-5.13zM866.85 322.05h3.61v2.5h-3.61zM875.71 322.05h1.96v2.5h-1.96zM906.73 322.05h3.61v2.5h-3.61zM862.42 330.65h4.88v2.5h-4.88zM878.63 330.65h3.61v2.5h-3.61zM889.01 330.65h15.26v2.5h-15.26zM912.55 330.65h1.84v2.5h-1.84zM918.88 330.65h3.23v2.5h-3.23zM925.71 330.65h5.51v2.5h-5.51zM933.44 330.65h1.84v2.5h-1.84zM937.74 330.65h7.66v2.5h-7.66zM869.76 339.25h3.61v2.5h-3.61zM876.98 339.25h2.34v2.5h-2.34zM916.85 339.25h2.6v2.5h-2.6zM930.14 339.25h2.34v2.5h-2.34zM826.98 347.85h12.47v2.5h-12.47zM860.9 347.85h2.34v2.5h-2.34zM816.6 356.45h3.86v2.5h-3.86zM854.95 356.45h2.22v2.5h-2.22zM903.94 356.45h3.48v2.5h-3.48zM841.54 365.05h2.34v2.5h-2.34zM847.87 365.05h4.62v2.5h-4.62zM857.99 365.05h2.34v2.5h-2.34zM819.38 373.65h2.09v2.5h-2.09zM825.46 373.65h2.22v2.5h-2.22zM829.64 373.65h2.47v2.5h-2.47zM838.75 373.65h6.65v2.5h-6.65zM856.73 373.65h4.62v2.5h-4.62zM821.03 382.25h2.22v2.5h-2.22zM846.09 382.25h2.22v2.5h-2.22zM853.56 382.25h2.09v2.5h-2.09zM823.82 390.85h2.6v2.5h-2.6zM844.45 390.85h2.22v2.5h-2.22zM851.79 390.85h2.47v2.5h-2.47zM822.55 399.45h2.09v2.5h-2.09zM816.6 408.05h0.7v2.5h-0.7zM944.82 296.25h2.47v2.5h-2.47zM953.93 304.85h9.56v2.5h-9.56zM951.02 313.45h3.61v2.5h-3.61zM967.47 313.45h3.23v2.5h-3.23zM974.56 313.45h2.22v2.5h-2.22zM979.25 313.45h12.09v2.5h-12.09zM947.85 322.05h3.86v2.5h-3.86zM962.79 330.65h2.6v2.5h-2.6zM946.71 339.25h1.96v2.5h-1.96zM964.31 339.25h2.09v2.5h-2.09zM977.6 339.25h2.09v2.5h-2.09zM956.71 347.85h5.51v2.5h-5.51zM970.01 356.45h8.42v2.5h-8.42zM990.64 356.45h2.6v2.5h-2.6zM965.57 408.05h2.6v2.5h-2.6z" fill="#ff0000" stroke="#ff0000" stroke-width="1.2" stroke-linejoin="round"/>
<text x="780.85" y="277.3" font-size="15.9" text-anchor="middle">Wind Direction</text>
<text class="t" x="568.25" y="440.9" text-anchor="middle">0</text>
<text class="t" x="603.68" y="440.9" text-anchor="middle">2</text>
<text class="t" x="639.12" y="440.9" text-anchor="middle">4</text>
<text class="t" x="674.55" y="440.9" text-anchor="middle">6</text>
<text class="t" x="709.98" y="440.9" text-anchor="middle">8</text>
<text class="t" x="745.42" y="440.9" text-anchor="middle">10</text>
<text class="t" x="780.85" y="440.9" text-anchor="middle">12</text>
<text class="t" x="816.28" y="440.9" text-anchor="middle">14</text>
<text class="t" x="851.72" y="440.9" text-anchor="middle">16</text>
<text class="t" x="887.15" y="440.9" text-anchor="middle">18</text>
<text class="t" x="922.58" y="440.9" text-anchor="middle">20</text>
<text class="t" x="958.02" y="440.9" text-anchor="middle">22</text>
<text class="t" x="993.45" y="440.9" text-anchor="middle">24</text>
<text class="t" x="561.45" y="430.3" text-anchor="end">0</text>
<text class="t" x="561.45" y="413.1" text-anchor="end">45</text>
<text class="t" x="561.45" y="395.9" text-anchor="end">90</text>
<text class="t" x="561.45" y="378.7" text-anchor="end">135</text>
<text class="t" x="561.45" y="361.5" text-anchor="end">180</text>
<text class="t" x="561.45" y="344.3" text-anchor="end">225</text>
<text class="t" x="561.45" y="327.1" text-anchor="end">270</text>
<text class="t" x="561.45" y="309.9" text-anchor="end">315</text>
<text class="t" x="561.45" y="292.7" text-anchor="end">360</text>
<text class="t" x="999.65" y="430.3">N</text>
<text class="t" x="999.65" y="413.1">NE</text>
<text class="t" x="999.65" y="395.9">E</text>
<text class="t" x="999.65" y="378.7">SE</text>
<text class="t" x="999.65" y="361.5">S</text>
<text class="t" x="999.65" y="344.3">SW</text>
<text class="t" x="999.65" y="327.1">W</text>
<text class="t" x="999.65" y="309.9">NW</text>
<text class="t" x="999.65" y="292.7">N</text>
<text transform="translate(532.6 357.7) rotate(-90)" font-size="14" text-anchor="middle">degrees</text>
<path d="M96.92 490.9V628.5M132.33 490.9V628.5M167.75 490.9V628.5M203.17 490.9V628.5M238.58 490.9V628.5M274 490.9V628.5M309.42 490.9V628.5M344.83 490.9V628.5M380.25 490.9V628.5M415.67 490.9V628.5M451.08 490.9V628.5M61.5 613.21H486.5M61.5 597.92H486.5M61.5 582.63H486.5M61.5 567.34H486.5M61.5 552.06H486.5M61.5 536.77H486.5M61.5 521.48H486.5M61.5 506.19H486.5" stroke="#999" stroke-width="1" fill="none"/>
<rect x="61.5" y="490.9" width="425" height="137.6" fill="none" stroke="#444" stroke-width="1"/>
<path d="M61.5 628.5 187.5 628.5 187.73 628.32 189.94 627.55 192.15 626.67 194.36 625.34 196.57 623.35 198.22 621.7 199.88 618.94 201.54 615.07 202.97 613.41 204.52 615.62 206.29 616.51 208.16 615.95 210.04 614.74 212.03 612.86 213.68 610.1 215.34 604.58 217 597.4 218.43 591.88 219.54 589.67 220.64 595.19 222.3 586.91 223.96 589.67 225.83 590.22 228.04 590.22 229.7 589.67 231.02 590.77 232.46 593.53 234.12 595.52 235.77 596.52 237.98 596.52 240.19 596.3 241.85 595.74 243.5 594.09 245.71 592.98 247.37 593.2 249.03 592.98 251.23 591.1 252.89 589.12 254.55 586.36 256.2 581.39 257.86 583.59 259.3 586.36 260.62 588.56 262.28 586.36 263.71 578.62 265.04 572 266.37 571.22 267.25 579.18 268.13 586.36 268.91 574.76 269.68 562.61 270.56 550.46 271.45 546.93 272.55 546.04 273.88 546.38 275.53 548.25 277.19 548.47 279.4 548.47 281.61 549.36 284.37 550.46 286.58 551.23 288.79 551.9 288.87 551.79 290.3 559.52 291.63 554 293.28 553.22 294.94 554.66 296.93 556.2 298.81 555.76 300.24 557.09 301.57 561.51 302.45 568.13 303.33 581.94 304.66 572.55 306.32 561.51 307.64 563.94 309.08 568.13 310.18 567.03 311.29 566.81 312.39 570.34 313.71 574.98 315.37 575.64 317.03 577.19 318.68 577.85 320.12 577.19 321.45 575.64 323.1 576.42 324.76 576.42 326.42 577.52 327.85 580.06 329.18 583.59 330.83 585.25 332.49 586.36 333.59 588.01 334.7 591.88 336.02 596.85 337.13 603.47 338.23 607.01 339.67 607.67 341.1 607.89 342.43 609.22 343.76 611.2 345.19 613.97 346.85 616.51 348.5 619.82 350.16 622.25 351.82 623.91 354.03 625.56 356.23 626.89 359 628.32 360 628.5 485.1 628.5" stroke="#ff0000" stroke-width="1.0" fill="none" stroke-linejoin="round"/>
<text x="274" y="479.3" font-size="15.9" text-anchor="middle">Solar Irradiance</text>
<text class="t" x="61.5" y="642.9" text-anchor="middle">0</text>
<text class="t" x="96.92" y="642.9" text-anchor="middle">2</text>
<text class="t" x="132.33" y="642.9" text-anchor="middle">4</text>
<text class="t" x="167.75" y="642.9" text-anchor="middle">6</text>
<text class="t" x="203.17" y="642.9" text-anchor="middle">8</text>
<text class="t" x="238.58" y="642.9" text-anchor="middle">10</text>
<text class="t" x="274" y="642.9" text-anchor="middle">12</text>
<text class="t" x="309.42" y="642.9" text-anchor="middle">14</text>
<text class="t" x="344.83" y="642.9" text-anchor="middle">16</text>
<text class="t" x="380.25" y="642.9" text-anchor="middle">18</text>
<text class="t" x="415.67" y="642.9" text-anchor="middle">20</text>
<text class="t" x="451.08" y="642.9" text-anchor="middle">22</text>
<text class="t" x="486.5" y="642.9" text-anchor="middle">24</text>
<text class="t" x="55.5" y="632.3" text-anchor="end">0</text>
<text class="t" x="55.5" y="617.01" text-anchor="end">100</text>
<text class="t" x="55.5" y="601.72" text-anchor="end">200</text>
<text class="t" x="55.5" y="586.43" text-anchor="end">300</text>
<text class="t" x="55.5" y="571.14" text-anchor="end">400</text>
<text class="t" x="55.5" y="555.86" text-anchor="end">500</text>
<text class="t" x="55.5" y="540.57" text-anchor="end">600</text>
<text class="t" x="55.5" y="525.28" text-anchor="end">700</text>
<text class="t" x="55.5" y="509.99" text-anchor="end">800</text>
<text class="t" x="55.5" y="494.7" text-anchor="end">900</text>
<text transform="translate(29 559.7) rotate(-90)" font-size="14" text-anchor="middle"><tspan style="font-kerning:none;letter-spacing:.5px">W/m</tspan><tspan dy="-8" dx="-0.6" font-size="10">2</tspan></text>
<path d="M603.68 490.9V628.5M639.12 490.9V628.5M674.55 490.9V628.5M709.98 490.9V628.5M745.42 490.9V628.5M780.85 490.9V628.5M816.28 490.9V628.5M851.72 490.9V628.5M887.15 490.9V628.5M922.58 490.9V628.5M958.02 490.9V628.5M568.25 614.74H993.45M568.25 600.98H993.45M568.25 587.22H993.45M568.25 573.46H993.45M568.25 559.7H993.45M568.25 545.94H993.45M568.25 532.18H993.45M568.25 518.42H993.45M568.25 504.66H993.45" stroke="#999" stroke-width="1" fill="none"/>
<rect x="568.25" y="490.9" width="425.2" height="137.6" fill="none" stroke="#444" stroke-width="1"/>
<path d="M568.52 496.23 570.16 500.03 572.32 504.84 573.96 499.14 575.23 501.29 577.13 498.76 578.39 499.39 579.66 501.29 580.92 501.04 582.44 503.82 584.09 506.99 585.99 507.37 587.89 507.62 589.15 509.77 590.42 506.99 591.68 512.05 593.2 513.32 594.85 516.48 597.38 521.16 598.9 518.63 601.81 518.13 603.46 515.59 604.97 518.38 607.51 518.38 610.67 518.38 612.32 521.16 613.58 518.38 614.85 520.28 616.62 521.16 618.27 523.82 619.66 517.75 620.8 524.08 622.44 529.14 623.96 526.99 625.48 526.61 626.75 530.41 628.39 534.2 630.04 537.11 631.3 535.09 632.57 534.58 634.09 536.73 635.99 538 637.89 541.16 639.78 544.96 641.05 545.59 643.2 545.85 644.85 551.29 646.11 548.76 647.76 548.76 649.28 556.35 651.18 556.73 653.71 556.73 655.23 559.52 656.49 570.28 657.89 568 659.41 570.03 661.3 567.75 662.57 573.06 663.84 570.28 665.48 567.75 667 573.06 668.65 570.53 670.16 570.91 671.43 573.06 673.08 570.91 674.59 570.03 676.49 567.11 678.39 563.32 680.29 559.9 681.94 559.52 683.46 561.67 685.35 562.94 686.62 564.96 687.89 562.68 689.41 562.68 690.8 568.38 692.32 573.44 693.58 568.38 695.48 566.73 697 564.58 697.7 569.87 699.34 570.51 700.86 567.72 702.38 570.51 704.03 567.72 705.67 565.19 707.82 565.19 710.99 565.19 712.89 565.19 714.53 562.28 716.05 565.19 717.95 565.19 720.1 565.19 721.75 562.28 723.39 567.72 724.91 565.19 726.81 565.19 728.71 563.54 730.23 557.22 731.87 556.58 733.52 553.8 735.04 556.58 736.56 553.8 738.2 551.27 740.73 551.27 743.9 551.27 745.42 548.35 746.68 553.42 748.33 559.75 749.97 565.44 751.24 567.72 752.76 564.81 754.28 562.53 755.92 562.66 757.57 565.19 759.72 565.19 761.37 565.44 762.89 567.34 764.78 567.97 766.68 571.14 767.7 573.67 768.96 570.76 770.48 573.04 772.38 573.67 774.03 576.2 775.29 576.84 776.56 580.89 778.08 581.65 779.97 584.68 781.24 587.22 783.14 587.22 785.42 587.22 786.94 590.13 788.46 593.04 790.1 595.44 791.37 595.82 792.89 604.05 794.53 606.2 797.06 606.33 799.34 609.49 801.11 606.58 802.76 603.42 804.66 605.95 806.3 605.7 807.44 603.42 809.09 605.95 810.35 606.58 812.25 609.11 814.15 609.11 816.05 606.58 818.58 606.33 820.48 609.11 822 611.27 823.08 612.03 824.85 614.56 826.49 609.11 827.76 611.01 829.28 612.03 830.92 617.34 832.44 614.56 834.72 614.56 836.62 614.56 838.27 617.34 839.78 614.56 841.68 614.18 843.58 610.38 845.48 606.33 847.13 608.73 848.65 606.58 850.16 606.2 851.81 602.78 853.46 600.63 856.24 600.63 858.77 600.63 860.42 598.35 861.94 603.42 863.58 601.14 866.37 600.63 868.27 597.09 870.16 593.29 872.06 589.75 873.71 589.24 875.23 589.75 877.13 592.28 878.39 592.28 880.04 589.75 882.82 589.49 885.99 589.49 887.25 587.59 888.14 590.13 889.78 587.59 891.68 586.96 892.7 584.68 894.22 586.96 896.11 583.8 898.01 580 899.03 578.73 900.54 581.27 902.06 578.73 903.08 578.73 904.34 584.43 905.23 587.22 906.62 587.22 908.14 584.43 909.66 584.18 910.92 578.73 912.19 584.18 913.84 581.65 915.1 581.27 916.75 576.58 918.27 575.82 919.78 573.67 921.43 573.67 923.08 576.2 925.23 576.58 926.87 578.73 928.39 578.73 930.29 578.1 931.3 573.67 932.82 573.67 934.09 578.1 935.73 579.37 937.25 581.27 939.15 581.52 941.68 581.27 943.2 578.73 944.22 581.27 945.86 578.73 947 578.35 948.65 581.39 950.16 578.48 951.43 583.92 953.96 584.3 956.49 581.39 957.76 584.3 959.28 584.3 960.92 582.03 962.57 578.86 964.09 578.23 965.35 575.7 966.37 581.39 968.52 581.39 969.53 572.53 971.05 579.49 972.57 570.63 974.22 568.1 976.11 567.09 978.01 563.67 979.91 559.87 981.81 556.08 983.71 552.28 984.59 548.86 985.99 551.01 987.51 547.22 988.77 542.78 990.04 545.32 991.68 543.42" stroke="#ff0000" stroke-width="1.0" fill="none" stroke-linejoin="round"/>
<text x="780.85" y="479.3" font-size="15.9" text-anchor="middle">Air Pressure</text>
<text class="t" x="568.25" y="642.9" text-anchor="middle">0</text>
<text class="t" x="603.68" y="642.9" text-anchor="middle">2</text>
<text class="t" x="639.12" y="642.9" text-anchor="middle">4</text>
<text class="t" x="674.55" y="642.9" text-anchor="middle">6</text>
<text class="t" x="709.98" y="642.9" text-anchor="middle">8</text>
<text class="t" x="745.42" y="642.9" text-anchor="middle">10</text>
<text class="t" x="780.85" y="642.9" text-anchor="middle">12</text>
<text class="t" x="816.28" y="642.9" text-anchor="middle">14</text>
<text class="t" x="851.72" y="642.9" text-anchor="middle">16</text>
<text class="t" x="887.15" y="642.9" text-anchor="middle">18</text>
<text class="t" x="922.58" y="642.9" text-anchor="middle">20</text>
<text class="t" x="958.02" y="642.9" text-anchor="middle">22</text>
<text class="t" x="993.45" y="642.9" text-anchor="middle">24</text>
<text class="t" x="561.45" y="632.3" text-anchor="end">750.0</text>
<text class="t" x="561.45" y="618.54" text-anchor="end">750.5</text>
<text class="t" x="561.45" y="604.78" text-anchor="end">751.0</text>
<text class="t" x="561.45" y="591.02" text-anchor="end">751.5</text>
<text class="t" x="561.45" y="577.26" text-anchor="end">752.0</text>
<text class="t" x="561.45" y="563.5" text-anchor="end">752.5</text>
<text class="t" x="561.45" y="549.74" text-anchor="end">753.0</text>
<text class="t" x="561.45" y="535.98" text-anchor="end">753.5</text>
<text class="t" x="561.45" y="522.22" text-anchor="end">754.0</text>
<text class="t" x="561.45" y="508.46" text-anchor="end">754.5</text>
<text class="t" x="561.45" y="494.7" text-anchor="end">755.0</text>
<text transform="translate(525.7 559.7) rotate(-90)" font-size="14" text-anchor="middle">millibars</text>
<path d="M96.92 692.9V830.5M132.33 692.9V830.5M167.75 692.9V830.5M203.17 692.9V830.5M238.58 692.9V830.5M274 692.9V830.5M309.42 692.9V830.5M344.83 692.9V830.5M380.25 692.9V830.5M415.67 692.9V830.5M451.08 692.9V830.5M61.5 809.33H486.5M61.5 788.16H486.5M61.5 766.99H486.5M61.5 745.82H486.5M61.5 724.65H486.5M61.5 703.48H486.5" stroke="#999" stroke-width="1" fill="none"/>
<rect x="61.5" y="692.9" width="425" height="137.6" fill="none" stroke="#444" stroke-width="1"/>
<path d="M61.5 830.5 207.5 830.5 210.13 830.32 212.15 826.74 214.02 824.4 216.36 822.38 218.7 820.82 221.81 819.73 224.93 818.64 228.04 817.39 230.38 817.39 232.72 818.48 237.39 818.17 239.73 817.39 242.06 817.08 244.4 816.3 249.07 816.3 252.19 813.96 254.53 811.94 256.4 810.85 258.42 811.47 259.98 812.72 262.01 811.16 263.88 807.73 265.43 807.26 266.99 809.13 268.24 809.91 269.8 803.37 271.35 800.25 273.22 799.47 277.9 799.47 281.01 800.25 284.13 800.25 287.24 800.56 290.05 802.59 293.48 803.06 296.59 803.37 299.71 804.62 301.58 806.8 303.14 809.13 305.16 808.51 307.5 808.04 309.83 809.6 311.39 809.6 313.73 811.94 316.85 814.27 319.96 814.27 323.08 815.37 326.19 816.61 329.31 818.17 332.42 820.04 334.76 822.06 337.88 824.4 340.21 826.27 342.55 829.85 343.64 830.32 344.5 830.5 485.1 830.5" stroke="#ff0000" stroke-width="1.0" fill="none" stroke-linejoin="round"/>
<text x="274" y="681.3" font-size="15.9" text-anchor="middle">UV Index</text>
<text class="t" x="61.5" y="844.9" text-anchor="middle">0</text>
<text class="t" x="96.92" y="844.9" text-anchor="middle">2</text>
<text class="t" x="132.33" y="844.9" text-anchor="middle">4</text>
<text class="t" x="167.75" y="844.9" text-anchor="middle">6</text>
<text class="t" x="203.17" y="844.9" text-anchor="middle">8</text>
<text class="t" x="238.58" y="844.9" text-anchor="middle">10</text>
<text class="t" x="274" y="844.9" text-anchor="middle">12</text>
<text class="t" x="309.42" y="844.9" text-anchor="middle">14</text>
<text class="t" x="344.83" y="844.9" text-anchor="middle">16</text>
<text class="t" x="380.25" y="844.9" text-anchor="middle">18</text>
<text class="t" x="415.67" y="844.9" text-anchor="middle">20</text>
<text class="t" x="451.08" y="844.9" text-anchor="middle">22</text>
<text class="t" x="486.5" y="844.9" text-anchor="middle">24</text>
<text class="t" x="55.5" y="834.3" text-anchor="end">0</text>
<text class="t" x="55.5" y="813.13" text-anchor="end">2</text>
<text class="t" x="55.5" y="791.96" text-anchor="end">4</text>
<text class="t" x="55.5" y="770.79" text-anchor="end">6</text>
<text class="t" x="55.5" y="749.62" text-anchor="end">8</text>
<text class="t" x="55.5" y="728.45" text-anchor="end">10</text>
<text class="t" x="55.5" y="707.28" text-anchor="end">12</text>
<text transform="translate(36.2 761.7) rotate(-90)" font-size="14" text-anchor="middle">UV Index</text>
<text x="274" y="864.3" font-size="15.9" text-anchor="middle">Local Time (hour)</text>
<path d="M603.68 692.9V830.5M639.12 692.9V830.5M674.55 692.9V830.5M709.98 692.9V830.5M745.42 692.9V830.5M780.85 692.9V830.5M816.28 692.9V830.5M851.72 692.9V830.5M887.15 692.9V830.5M922.58 692.9V830.5M958.02 692.9V830.5M568.25 816.74H993.45M568.25 802.98H993.45M568.25 789.22H993.45M568.25 775.46H993.45M568.25 761.7H993.45M568.25 747.94H993.45M568.25 734.18H993.45M568.25 720.42H993.45M568.25 706.66H993.45" stroke="#999" stroke-width="1" fill="none"/>
<rect x="568.25" y="692.9" width="425.2" height="137.6" fill="none" stroke="#444" stroke-width="1"/>
<path d="M568.25 830.5 991.95 830.5" stroke="#ff0000" stroke-width="1.0" fill="none" stroke-linejoin="round"/>
<text x="780.85" y="681.3" font-size="15.9" text-anchor="middle">24 hour Accumulated Rainfall or Snow Melt</text>
<text class="t" x="568.25" y="844.9" text-anchor="middle">0</text>
<text class="t" x="603.68" y="844.9" text-anchor="middle">2</text>
<text class="t" x="639.12" y="844.9" text-anchor="middle">4</text>
<text class="t" x="674.55" y="844.9" text-anchor="middle">6</text>
<text class="t" x="709.98" y="844.9" text-anchor="middle">8</text>
<text class="t" x="745.42" y="844.9" text-anchor="middle">10</text>
<text class="t" x="780.85" y="844.9" text-anchor="middle">12</text>
<text class="t" x="816.28" y="844.9" text-anchor="middle">14</text>
<text class="t" x="851.72" y="844.9" text-anchor="middle">16</text>
<text class="t" x="887.15" y="844.9" text-anchor="middle">18</text>
<text class="t" x="922.58" y="844.9" text-anchor="middle">20</text>
<text class="t" x="958.02" y="844.9" text-anchor="middle">22</text>
<text class="t" x="993.45" y="844.9" text-anchor="middle">24</text>
<text class="t" x="561.45" y="834.3" text-anchor="end">0.0</text>
<text class="t" x="561.45" y="820.54" text-anchor="end">0.01</text>
<text class="t" x="561.45" y="806.78" text-anchor="end">0.02</text>
<text class="t" x="561.45" y="793.02" text-anchor="end">0.03</text>
<text class="t" x="561.45" y="779.26" text-anchor="end">0.04</text>
<text class="t" x="561.45" y="765.5" text-anchor="end">0.05</text>
<text class="t" x="561.45" y="751.74" text-anchor="end">0.06</text>
<text class="t" x="561.45" y="737.98" text-anchor="end">0.07</text>
<text class="t" x="561.45" y="724.22" text-anchor="end">0.08</text>
<text class="t" x="561.45" y="710.46" text-anchor="end">0.09</text>
<text class="t" x="561.45" y="696.7" text-anchor="end">0.1</text>
<text class="t" x="999.65" y="834.3">0.0</text>
<text class="t" x="999.65" y="820.54">0.01</text>
<text class="t" x="999.65" y="806.78">0.02</text>
<text class="t" x="999.65" y="793.02">0.03</text>
<text class="t" x="999.65" y="779.26">0.04</text>
<text class="t" x="999.65" y="765.5">0.05</text>
<text class="t" x="999.65" y="751.74">0.06</text>
<text class="t" x="999.65" y="737.98">0.07</text>
<text class="t" x="999.65" y="724.22">0.08</text>
<text class="t" x="999.65" y="710.46">0.09</text>
<text class="t" x="999.65" y="696.7">0.1</text>
<text transform="translate(532.5 761.7) rotate(-90)" font-size="14" text-anchor="middle">Inches</text>
<text x="780.85" y="864.3" font-size="15.9" text-anchor="middle">Local Time (hour)</text>
</svg></body></html>
